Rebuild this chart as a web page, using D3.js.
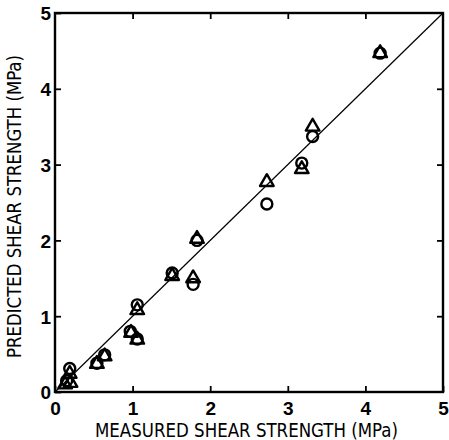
<!DOCTYPE html>
<html>
<head>
<meta charset="utf-8">
<script src="https://cdn.jsdelivr.net/npm/d3@7"></script>
<style>
  body { margin: 0; background: #fff; }
  text { font-family: "Liberation Sans Narrow", "DejaVu Sans Condensed", "Liberation Sans", sans-serif; fill: #000; }
</style>
</head>
<body>
<div id="chart"></div>
<script>
var xTicks = [0, 1, 2, 3, 4, 5];
var yTicks = [0, 1, 2, 3, 4, 5];

// measured, predicted (MPa)
var circlePts = [
    [0.19, 0.31], [0.15, 0.15], [0.54, 0.38], [0.64, 0.49],
    [0.97, 0.80], [1.06, 0.70], [1.06, 1.15], [1.51, 1.57],
    [1.78, 1.42], [1.83, 2.00], [2.73, 2.48], [3.18, 3.02],
    [3.32, 3.37], [4.19, 4.47]
];
var trianglePts = [
    [0.19, 0.24], [0.13, 0.10], [0.20, 0.12], [0.54, 0.37],
    [0.64, 0.47], [0.98, 0.78], [1.06, 0.69], [1.06, 1.08],
    [1.51, 1.53], [1.78, 1.50], [1.83, 2.02], [2.73, 2.77],
    [3.18, 2.94], [3.32, 3.50], [4.19, 4.47]
];

var width = 449, height = 440;
var margin = {left: 55, right: 6, top: 13, bottom: 48};

var svg = d3.select('#chart').append('svg')
            .attr('width', width)
            .attr('height', height);

var x = d3.scaleLinear().domain([0, 5]).range([margin.left, width - margin.right]);
var y = d3.scaleLinear().domain([0, 5]).range([height - margin.bottom, margin.top]);

// frame
svg.append('rect')
   .attr('x', x(0)).attr('y', y(5))
   .attr('width', x(5) - x(0)).attr('height', y(0) - y(5))
   .attr('fill', 'none').attr('stroke', '#000').attr('stroke-width', 2.4);

// axes with inward ticks
var fmt = d3.format('d');
var xAxis = svg.append('g')
    .attr('transform', 'translate(0,' + y(0) + ')')
    .call(d3.axisBottom(x).tickValues(xTicks).tickFormat(fmt).tickSizeInner(-6).tickSizeOuter(0).tickPadding(9));
var yAxis = svg.append('g')
    .attr('transform', 'translate(' + x(0) + ',0)')
    .call(d3.axisLeft(y).tickValues(yTicks).tickFormat(fmt).tickSizeInner(-6).tickSizeOuter(0).tickPadding(4));
svg.append('g')
    .attr('transform', 'translate(0,' + y(5) + ')')
    .call(d3.axisTop(x).tickValues(xTicks.slice(1, 5)).tickSizeInner(-6).tickSizeOuter(0).tickFormat(''));
svg.append('g')
    .attr('transform', 'translate(' + x(5) + ',0)')
    .call(d3.axisRight(y).tickValues(yTicks.slice(1, 5)).tickSizeInner(-6).tickSizeOuter(0).tickFormat(''));

svg.selectAll('.domain').remove();
svg.selectAll('.tick line').attr('stroke', '#000').attr('stroke-width', 1.8);
svg.selectAll('.tick text')
   .style('font-size', '19px')
   .style('font-weight', 'bold')
   .style('font-family', '"Liberation Sans", sans-serif');
xAxis.selectAll('text').attr('dy', '0.72em');
yAxis.selectAll('text').attr('dy', '0.36em');

// 1:1 line
svg.append('line')
   .attr('x1', x(0)).attr('y1', y(0))
   .attr('x2', x(5)).attr('y2', y(5))
   .attr('stroke', '#000').attr('stroke-width', 1.2);

// markers
svg.selectAll('circle.pt')
   .data(circlePts)
   .enter()
   .append('circle')
   .attr('class', 'pt')
   .attr('cx', function (d) { return x(d[0]); })
   .attr('cy', function (d) { return y(d[1]); })
   .attr('r', 5.5)
   .attr('fill', 'none')
   .attr('stroke', '#000')
   .attr('stroke-width', 2.4);

var tri = d3.symbol().type(d3.symbolTriangle).size(80);
svg.selectAll('path.tri')
   .data(trianglePts)
   .enter()
   .append('path')
   .attr('class', 'tri')
   .attr('d', tri)
   .attr('transform', function (d) { return 'translate(' + x(d[0]) + ',' + y(d[1]) + ')'; })
   .attr('fill', 'none')
   .attr('stroke', '#000')
   .attr('stroke-width', 2.4)
   .attr('stroke-linejoin', 'round');

// axis titles
svg.append('text')
   .attr('x', 95).attr('y', 437)
   .attr('textLength', 303).attr('lengthAdjust', 'spacingAndGlyphs')
   .style('font-size', '19px')
   .text('MEASURED SHEAR STRENGTH  (MPa)');

svg.append('text')
   .attr('transform', 'translate(21,358) rotate(-90)')
   .attr('textLength', 303).attr('lengthAdjust', 'spacingAndGlyphs')
   .style('font-size', '19px')
   .text('PREDICTED SHEAR STRENGTH  (MPa)');
</script>
</body>
</html>
